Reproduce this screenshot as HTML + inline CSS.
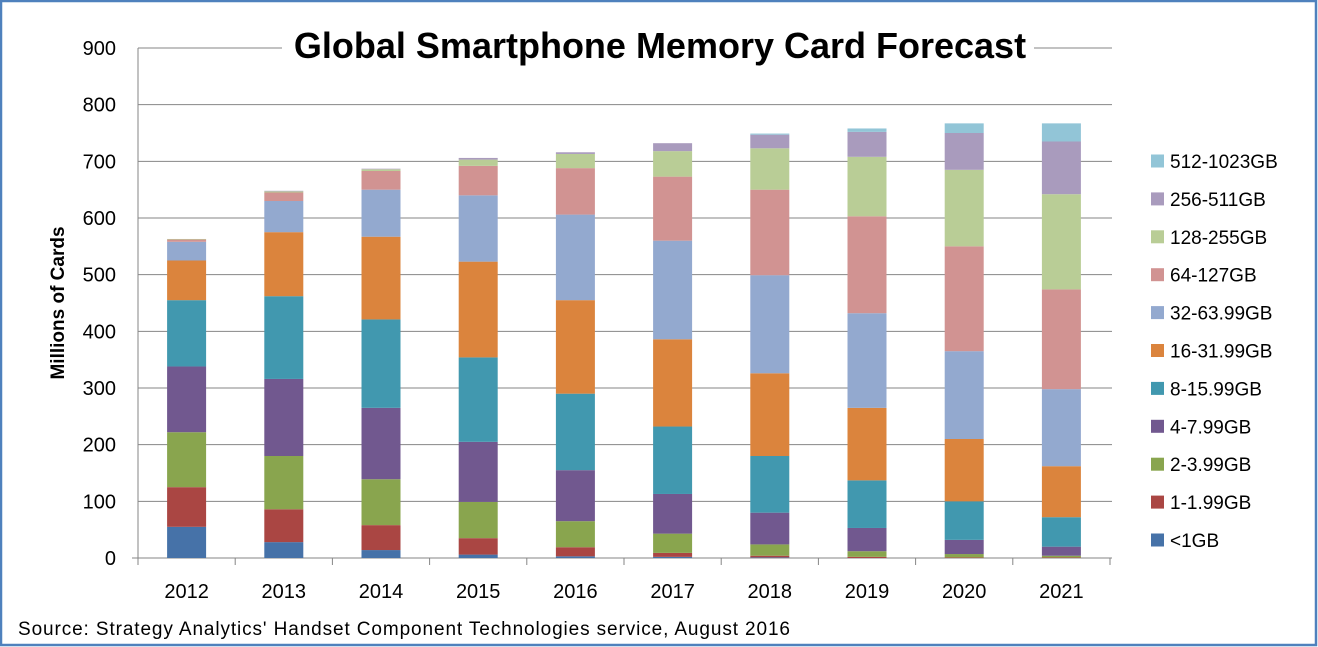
<!DOCTYPE html>
<html><head><meta charset="utf-8"><style>
html,body{margin:0;padding:0;background:#fff}
svg{display:block}
text{font-family:"Liberation Sans",sans-serif}
</style></head><body>
<svg id="c" width="1318" height="647" xmlns="http://www.w3.org/2000/svg">
<rect x="1" y="1" width="1315" height="644" fill="#fff" stroke="#4F81BD" stroke-width="2.5"/>
<g id="grid"></g>
<g id="bars"></g>
<g id="lab"></g>
<rect x="282" y="22" width="752" height="48" fill="#fff"/>
<text x="660" y="58" text-anchor="middle" font-size="36" font-weight="bold" fill="#000">Global Smartphone Memory Card Forecast</text>
<text transform="translate(64,303) rotate(-90)" text-anchor="middle" font-size="19" font-weight="bold">Millions of Cards</text>
<text x="18" y="635" font-size="19" textLength="772" lengthAdjust="spacing">Source: Strategy Analytics' Handset Component Technologies service,  August 2016</text>
<g id="leg"></g>
</svg>
<script>
var NS="http://www.w3.org/2000/svg";
function el(p,t,a,txt){var e=document.createElementNS(NS,t);for(var k in a)e.setAttribute(k,a[k]);if(txt!==undefined)e.textContent=txt;document.getElementById(p).appendChild(e);}
var y0=558,sc=510/900,x0=138,step=97.2;
for(var v=0;v<=900;v+=100){var y=y0-v*sc;
 el("grid","line",{x1:v?x0:x0-6,x2:1112,y1:y,y2:y,stroke:"#868686","stroke-width":1});
 el("lab","text",{x:116,y:y+7,"text-anchor":"end","font-size":20},String(v));}
el("grid","line",{x1:x0,x2:x0,y1:48,y2:y0,stroke:"#868686"});
for(var i=0;i<=10;i++){var x=x0+i*step;el("grid","line",{x1:x,x2:x,y1:y0,y2:y0+7,stroke:"#868686"});}
var cols=["#4672A8","#AA4643","#89A54E","#71588F","#4198AF","#DB843D","#93A9CF","#D19392","#B9CD96","#A99BBD","#92C5D7"];
var names=["<1GB","1-1.99GB","2-3.99GB","4-7.99GB","8-15.99GB","16-31.99GB","32-63.99GB","64-127GB","128-255GB","256-511GB","512-1023GB"];
var d=[
[55,125,222,338,455,525,558,562,563],
[28,86,180,316,462,575,630,645,647,648],
[14,58,139,265,421,567,650,683,686,687],
[6,35,99,205,354,523,640,692,703,706],
[3,19,65,155,290,455,606,688,713,716],
[2,9,43,113,232,386,560,673,718,732],
[1,4,24,80,180,326,499,650,723,747,749],
[0,2,12,53,137,265,432,603,708,752,758],
[0,1,7,32,100,210,365,550,685,750,767],
[0,1,4,20,72,162,298,474,642,735,767]];
for(var i=0;i<10;i++){var cx=x0+step*(i+0.5),prev=0;
 for(var j=0;j<d[i].length;j++){var c=d[i][j];
  if(c>prev)el("bars","rect",{x:cx-19.5,y:y0-c*sc,width:39,height:(c-prev)*sc,fill:cols[j]});prev=c;}
 el("lab","text",{x:cx,y:598,"text-anchor":"middle","font-size":20},String(2012+i));}
for(var j=0;j<11;j++){var y=540-(j)*37.9;
 el("leg","rect",{x:1151,y:y-6.5,width:13,height:13,fill:cols[j]});
 el("leg","text",{x:1170,y:y+7,"font-size":19},names[j]);}
</script>
</body></html>
